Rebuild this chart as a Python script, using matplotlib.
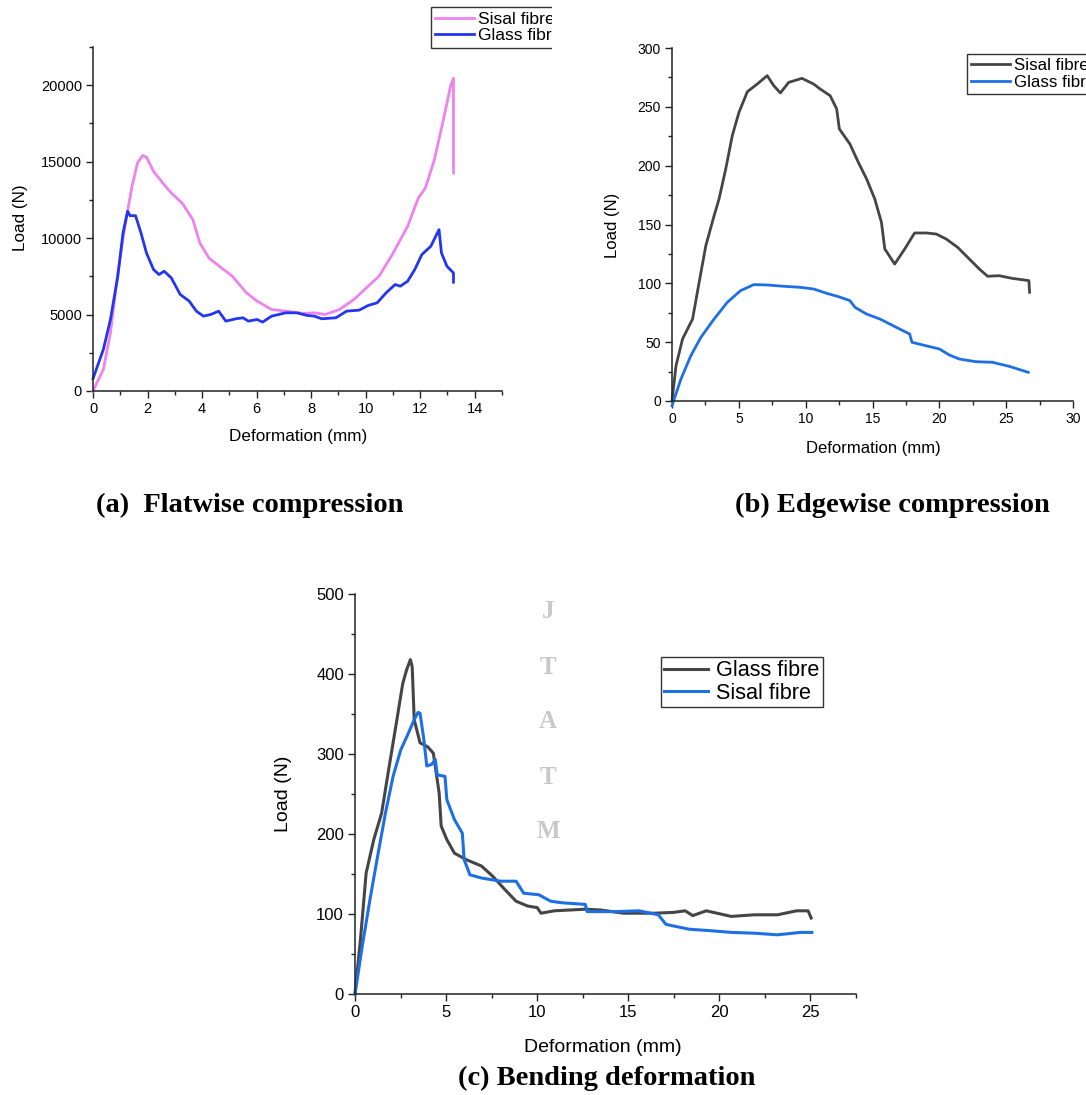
import matplotlib
matplotlib.use("Agg")
import matplotlib.pyplot as plt
from matplotlib.patches import Rectangle
from matplotlib.ticker import MultipleLocator

# ---------------- data ----------------
# (a) Flatwise compression
a_sisal_x = [0, 0.38, 0.64, 0.91, 1.17, 1.43, 1.63, 1.82, 1.96, 2.22, 2.61, 2.87, 3.27, 3.66, 3.92, 4.25,
             4.71, 5.11, 5.63, 6.02, 6.55, 7.07, 7.73, 8.12, 8.52, 9.04, 9.57, 10.09, 10.49, 11.01, 11.54,
             11.93, 12.19, 12.52, 12.85, 13.11, 13.22, 13.22]
a_sisal_y = [0, 1415, 3808, 7726, 10773, 13384, 14908, 15408, 15300, 14364, 13493, 12949, 12296, 11208,
             9685, 8705, 8052, 7508, 6420, 5876, 5332, 5223, 5071, 5114, 5005, 5332, 5985, 6855, 7508,
             9032, 10773, 12622, 13275, 15125, 17737, 19913, 20457, 14255]
a_glass_x = [0, 0.38, 0.64, 0.91, 1.10, 1.27, 1.36, 1.56, 1.76, 1.96, 2.22, 2.42, 2.61, 2.87, 3.20, 3.53,
             3.79, 4.05, 4.32, 4.61, 4.87, 5.24, 5.50, 5.70, 6.02, 6.22, 6.55, 7.07, 7.47, 7.86, 8.12,
             8.39, 8.91, 9.30, 9.76, 10.09, 10.42, 10.75, 11.08, 11.27, 11.54, 11.80, 12.06, 12.39,
             12.69, 12.78, 12.98, 13.22, 13.22]
a_glass_y = [805, 2720, 4679, 7508, 10337, 11752, 11469, 11469, 10337, 9032, 7943, 7617, 7835, 7400,
             6311, 5876, 5223, 4897, 5005, 5223, 4570, 4723, 4788, 4570, 4679, 4505, 4897, 5114, 5114,
             4940, 4897, 4723, 4788, 5223, 5288, 5593, 5767, 6420, 6964, 6855, 7182, 7943, 8923, 9467,
             10555, 9032, 8161, 7726, 7117]

# (b) Edgewise compression
b_sisal_x = [0, 0.30, 0.79, 1.54, 2.03, 2.53, 3.15, 3.52, 4.02, 4.51, 5.01, 5.64, 6.38, 7.12, 7.61, 8.11,
             8.73, 9.72, 10.59, 11.08, 11.83, 12.32, 12.52, 13.31, 13.94, 14.56, 15.17, 15.67, 15.92,
             16.66, 17.41, 18.15, 19.02, 19.77, 20.51, 21.37, 22.24, 22.99, 23.61, 24.47, 25.47, 26.70,
             26.75]
b_sisal_y = [0, 30, 52.7, 69.7, 100.8, 132, 157.5, 171.7, 197.2, 225.5, 245.3, 262.9, 269.4, 276.5, 268,
             261.8, 270.8, 274.2, 269.4, 265.2, 259.5, 248.2, 231.2, 218.4, 202.8, 188.7, 171.7, 151.8,
             129.2, 116.4, 129.2, 142.8, 142.8, 141.9, 137.7, 130.6, 120.7, 112.2, 106, 106.5, 104.2,
             102.3, 92.4]
b_glass_x = [0, 0.67, 1.41, 2.16, 3.15, 4.14, 5.13, 6.12, 7.12, 8.36, 9.60, 10.59, 11.58, 12.45, 13.31,
             13.69, 14.56, 15.55, 16.54, 17.78, 17.95, 18.77, 20.01, 20.75, 21.49, 22.73, 23.97, 25.21,
             26.65]
b_glass_y = [-4, 18.7, 38.5, 54.1, 69.7, 83.9, 93.8, 98.9, 98.6, 97.5, 96.6, 95.2, 91.5, 88.7, 85.3, 79.6,
             73.9, 69.7, 64, 56.9, 49.9, 47.6, 44.2, 39.1, 35.7, 33.4, 32.9, 29.5, 24.4]

# (c) Bending deformation
c_glass_x = [0, 0.30, 0.61, 1.03, 1.46, 1.88, 2.30, 2.62, 2.83, 3.04, 3.14, 3.25, 3.57, 3.99, 4.30, 4.62,
             4.73, 5.04, 5.46, 6.10, 6.94, 7.57, 8.21, 8.84, 9.47, 10.0, 10.21, 10.95, 12.64, 13.48,
             14.75, 16.43, 17.49, 18.12, 18.54, 19.28, 20.65, 21.92, 23.19, 24.24, 24.87, 25.04]
c_glass_y = [0, 68, 151, 193, 226, 285, 343, 388, 405, 418, 409, 343, 314, 309, 301, 251, 210, 193, 176,
             168, 160, 147, 131, 116, 110, 108, 101, 104, 106, 105, 101, 101, 102, 104, 98, 104, 97, 99,
             99, 104, 104, 95]
c_sisal_x = [0, 0.40, 0.82, 1.24, 1.67, 2.09, 2.51, 2.93, 3.25, 3.46, 3.57, 3.78, 3.94, 4.20, 4.41, 4.51,
             4.94, 5.04, 5.46, 5.89, 5.99, 6.31, 6.94, 8.00, 8.84, 9.26, 10.10, 10.74, 11.37, 12.64,
             12.74, 14.33, 15.59, 16.65, 17.07, 18.33, 19.59, 20.65, 21.92, 23.19, 24.45, 25.08]
c_sisal_y = [0, 60, 118, 172, 226, 272, 305, 326, 343, 352, 351, 318, 285, 287, 293, 274, 272, 243, 218,
             201, 168, 149, 145, 141, 141, 126, 124, 116, 114, 112, 103, 103, 104, 99, 87, 81, 79, 77, 76,
             74, 77, 77]

legend_a = ["Sisal fibre", "Glass fibre"]
legend_b = ["Sisal fibre", "Glass fibre"]
legend_c = ["Glass fibre", "Sisal fibre"]
titles = ["(a)  Flatwise compression", "(b) Edgewise compression", "(c) Bending deformation"]
watermark = ["J", "T", "A", "T", "M"]

# ---------------- style ----------------
plt.rcParams['font.family'] = ['Liberation Sans', 'DejaVu Sans']
W, H = 1086, 1095
fig = plt.figure(figsize=(W / 100, H / 100), dpi=100)
fig.patch.set_facecolor('white')

PINK = '#EE82EE'
BLUE_A = '#2236F2'
GRAY = '#454545'
BLUE = '#1E6FE3'


def px_axes(l, t, r, b):
    return fig.add_axes([l / W, 1 - b / H, (r - l) / W, (b - t) / H])


def style(ax, fs, xmaj, xmin, ymaj, ymin):
    for s in ['top', 'right']:
        ax.spines[s].set_visible(False)
    for s in ['left', 'bottom']:
        ax.spines[s].set_linewidth(1.1)
        ax.spines[s].set_color('#222222')
    ax.xaxis.set_major_locator(MultipleLocator(xmaj))
    ax.xaxis.set_minor_locator(MultipleLocator(xmin))
    ax.yaxis.set_major_locator(MultipleLocator(ymaj))
    ax.yaxis.set_minor_locator(MultipleLocator(ymin))
    ax.tick_params(which='major', direction='out', length=5, width=1.0, labelsize=fs, color='#222222', pad=3)
    ax.tick_params(which='minor', direction='out', length=3, width=1.0, color='#222222')
    ax.set_facecolor('none')


def px_text(x, y, s, **kw):
    fig.text(x / W, 1 - y / H, s, **kw)


def legend(ax, handles, labels, x, y, fs, hl, pad, tp=0.3):
    lg = ax.legend(handles, labels, loc='upper left', bbox_to_anchor=(x / W, 1 - y / H),
                   bbox_transform=fig.transFigure, borderaxespad=0, fontsize=fs, frameon=True,
                   fancybox=False, handlelength=hl, handletextpad=tp, labelspacing=0.08, borderpad=pad)
    fr = lg.get_frame()
    fr.set_edgecolor('#333333')
    fr.set_linewidth(1.0)
    fr.set_alpha(None)
    return lg


# ---------- (a) ----------
axa = px_axes(93, 47, 502, 391)
la1, = axa.plot(a_sisal_x, a_sisal_y, color=PINK, lw=2.0, clip_on=False)
la2, = axa.plot(a_glass_x, a_glass_y, color=BLUE_A, lw=2.0, clip_on=False)
axa.set_xlim(0, 15)
axa.set_ylim(0, 22500)
style(axa, 10.5, 2, 1, 5000, 2500)
axa.set_xticks(range(0, 15, 2))
px_text(298, 436, "Deformation (mm)", fontsize=12.3, ha='center', va='center')
px_text(20, 218, "Load (N)", fontsize=12.3, ha='center', va='center', rotation=90)
legend(axa, [la1, la2], legend_a, 431, 7, 12.6, 2.2, 0.25, 0.25)

# ---------- (b) ----------
axb = px_axes(672, 48, 1073, 401)
lb1, = axb.plot(b_sisal_x, b_sisal_y, color=GRAY, lw=2.0, clip_on=False)
lb2, = axb.plot(b_glass_x, b_glass_y, color=BLUE, lw=2.0, clip_on=False)
axb.set_xlim(0, 30)
axb.set_ylim(0, 300)
style(axb, 10, 5, 2.5, 50, 25)
px_text(873, 448, "Deformation (mm)", fontsize=12, ha='center', va='center')
px_text(613, 225, "Load (N)", fontsize=12, ha='center', va='center', rotation=90)
legend(axb, [lb1, lb2], legend_b, 967, 54, 12.2, 2.3, 0.25, 0.25)

# ---------- (c) ----------
axc = px_axes(355, 594, 856, 994)
lc1, = axc.plot(c_glass_x, c_glass_y, color=GRAY, lw=2.2, clip_on=False)
lc2, = axc.plot(c_sisal_x, c_sisal_y, color=BLUE, lw=2.2, clip_on=False)
axc.set_xlim(0, 27.5)
axc.set_ylim(0, 500)
style(axc, 12, 5, 2.5, 100, 50)
px_text(603, 1047, "Deformation (mm)", fontsize=14, ha='center', va='center')
px_text(283, 794, "Load (N)", fontsize=14, ha='center', va='center', rotation=90)
legend(axc, [lc1, lc2], legend_c, 661, 657, 15.6, 2.0, 0.15, 0.4)

# watermark
for i, ch in enumerate(watermark):
    px_text(548, 612 + i * 55, ch, fontsize=18, ha='center', va='center', color='#C8C8C8',
            family=['Liberation Serif'], fontweight='bold')

# panel titles
tkw = dict(fontsize=20.5, ha='center', va='center', family=['Liberation Serif'], fontweight='bold')
px_text(250, 505, titles[0], **tkw)
px_text(892, 505, titles[1], **tkw)
px_text(607, 1078, titles[2], **tkw)

# crop of the first panel's legend (the source image was cut at this edge)
fig.add_artist(Rectangle((552 / W, 1 - 55 / H), 45 / W, 55 / H, transform=fig.transFigure,
                         facecolor='white', edgecolor='none', zorder=20))

fig.savefig("out.png", dpi=100, facecolor='white')
